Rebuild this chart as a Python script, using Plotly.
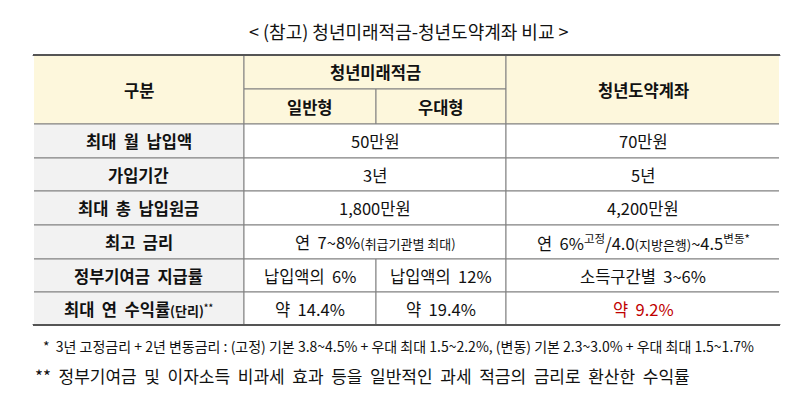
import plotly.graph_objects as go

title = "< (참고) 청년미래적금-청년도약계좌 비교 >"
group_head = ["청년미래적금", "청년도약계좌"]
sub_head = ["일반형", "우대형"]
row_labels = ["최대  월  납입액", "가입기간", "최대  총  납입원금", "최고  금리",
              "정부기여금  지급률", "최대  연  수익률<span style='font-size:13px'>(단리)<sup>**</sup></span>"]
# per row: (일반형, 우대형, 청년도약계좌); None in 우대형 means merged with 일반형
col_general = ["50만원", "3년", "1,800만원",
               "연  7~8%<span style='font-size:13px'>(취급기관별 최대)</span>",
               "납입액의  6%", "약  14.4%"]
col_pref = [None, None, None, None, "납입액의  12%", "약  19.4%"]
col_dream = ["70만원", "5년", "4,200만원",
             "연  6%<sup>고정</sup>/4.0<span style='font-size:13px'>(지방은행)</span>~4.5<sup>변동*</sup>",
             "소득구간별  3~6%", "약  9.2%"]
notes = ["*  3년 고정금리 + 2년 변동금리 : (고정) 기본 3.8~4.5% + 우대 최대 1.5~2.2%, (변동) 기본 2.3~3.0% + 우대 최대 1.5~1.7%",
         "**  정부기여금  및  이자소득  비과세  효과  등을  일반적인  과세  적금의  금리로  환산한  수익률"]

xs = [25, 236, 368, 498, 772]
ys = [47, 81, 116, 150, 183, 217, 251, 284, 317]
font = "Noto Sans CJK KR"
line_c = "#808080"

fig = go.Figure()
shapes, ann = [], []

def rect(x0, x1, y0, y1, fill):
    shapes.append(dict(type="rect", xref="x", yref="y", x0=x0, x1=x1, y0=y0, y1=y1,
                       fillcolor=fill, line=dict(color=line_c, width=1), layer="below"))

def text(x0, x1, y0, y1, t, bold=False, color="#111", size=16.5):
    if bold:
        t = "<b>" + t + "</b>"
    ann.append(dict(x=(x0 + x1) / 2, y=(y0 + y1) / 2, xref="x", yref="y", text=t,
                    showarrow=False, font=dict(family=font, size=size, color=color)))

hdr = "#fdf7dc"
side = "#f2f2f2"
rect(xs[0], xs[1], ys[0], ys[2], hdr); text(xs[0], xs[1], ys[0], ys[2], "구분", True)
rect(xs[1], xs[3], ys[0], ys[1], hdr); text(xs[1], xs[3], ys[0], ys[1], group_head[0], True)
rect(xs[1], xs[2], ys[1], ys[2], hdr); text(xs[1], xs[2], ys[1], ys[2], sub_head[0], True)
rect(xs[2], xs[3], ys[1], ys[2], hdr); text(xs[2], xs[3], ys[1], ys[2], sub_head[1], True)
rect(xs[3], xs[4], ys[0], ys[2], hdr); text(xs[3], xs[4], ys[0], ys[2], group_head[1], True)

for i, lab in enumerate(row_labels):
    y0, y1 = ys[i + 2], ys[i + 3]
    rect(xs[0], xs[1], y0, y1, side); text(xs[0], xs[1], y0, y1, lab, True)
    if col_pref[i] is None:
        rect(xs[1], xs[3], y0, y1, "white"); text(xs[1], xs[3], y0, y1, col_general[i])
    else:
        rect(xs[1], xs[2], y0, y1, "white"); text(xs[1], xs[2], y0, y1, col_general[i])
        rect(xs[2], xs[3], y0, y1, "white"); text(xs[2], xs[3], y0, y1, col_pref[i])
    red = i == len(row_labels) - 1
    rect(xs[3], xs[4], y0, y1, "white")
    text(xs[3], xs[4], y0, y1, col_dream[i], color="#c00000" if red else "#111")

for yb in (ys[0], ys[-1]):
    shapes.append(dict(type="line", xref="x", yref="y", x0=xs[0], x1=xs[4], y0=yb, y1=yb,
                       line=dict(color="#555", width=2)))
# no outer side borders
for xb in (xs[0], xs[4]):
    shapes.append(dict(type="line", xref="x", yref="y", x0=xb, x1=xb, y0=ys[0] + 1, y1=ys[-1] - 1,
                       line=dict(color="white", width=2)))

ann.append(dict(x=400, y=23, xref="x", yref="y", text=title, showarrow=False,
                font=dict(family=font, size=18, color="#111")))
ann.append(dict(x=33, y=338, xref="x", yref="y", text=notes[0], showarrow=False, xanchor="left",
                font=dict(family=font, size=14, color="#111")))
ann.append(dict(x=25, y=367, xref="x", yref="y", text=notes[1], showarrow=False, xanchor="left",
                font=dict(family=font, size=17, color="#111")))

fig.update_layout(width=800, height=400, margin=dict(l=0, r=0, t=0, b=0),
                  plot_bgcolor="white", paper_bgcolor="white",
                  shapes=shapes, annotations=ann,
                  xaxis=dict(range=[0, 800], visible=False, fixedrange=True),
                  yaxis=dict(range=[400, 0], visible=False, fixedrange=True))
fig.write_html("out.html")
